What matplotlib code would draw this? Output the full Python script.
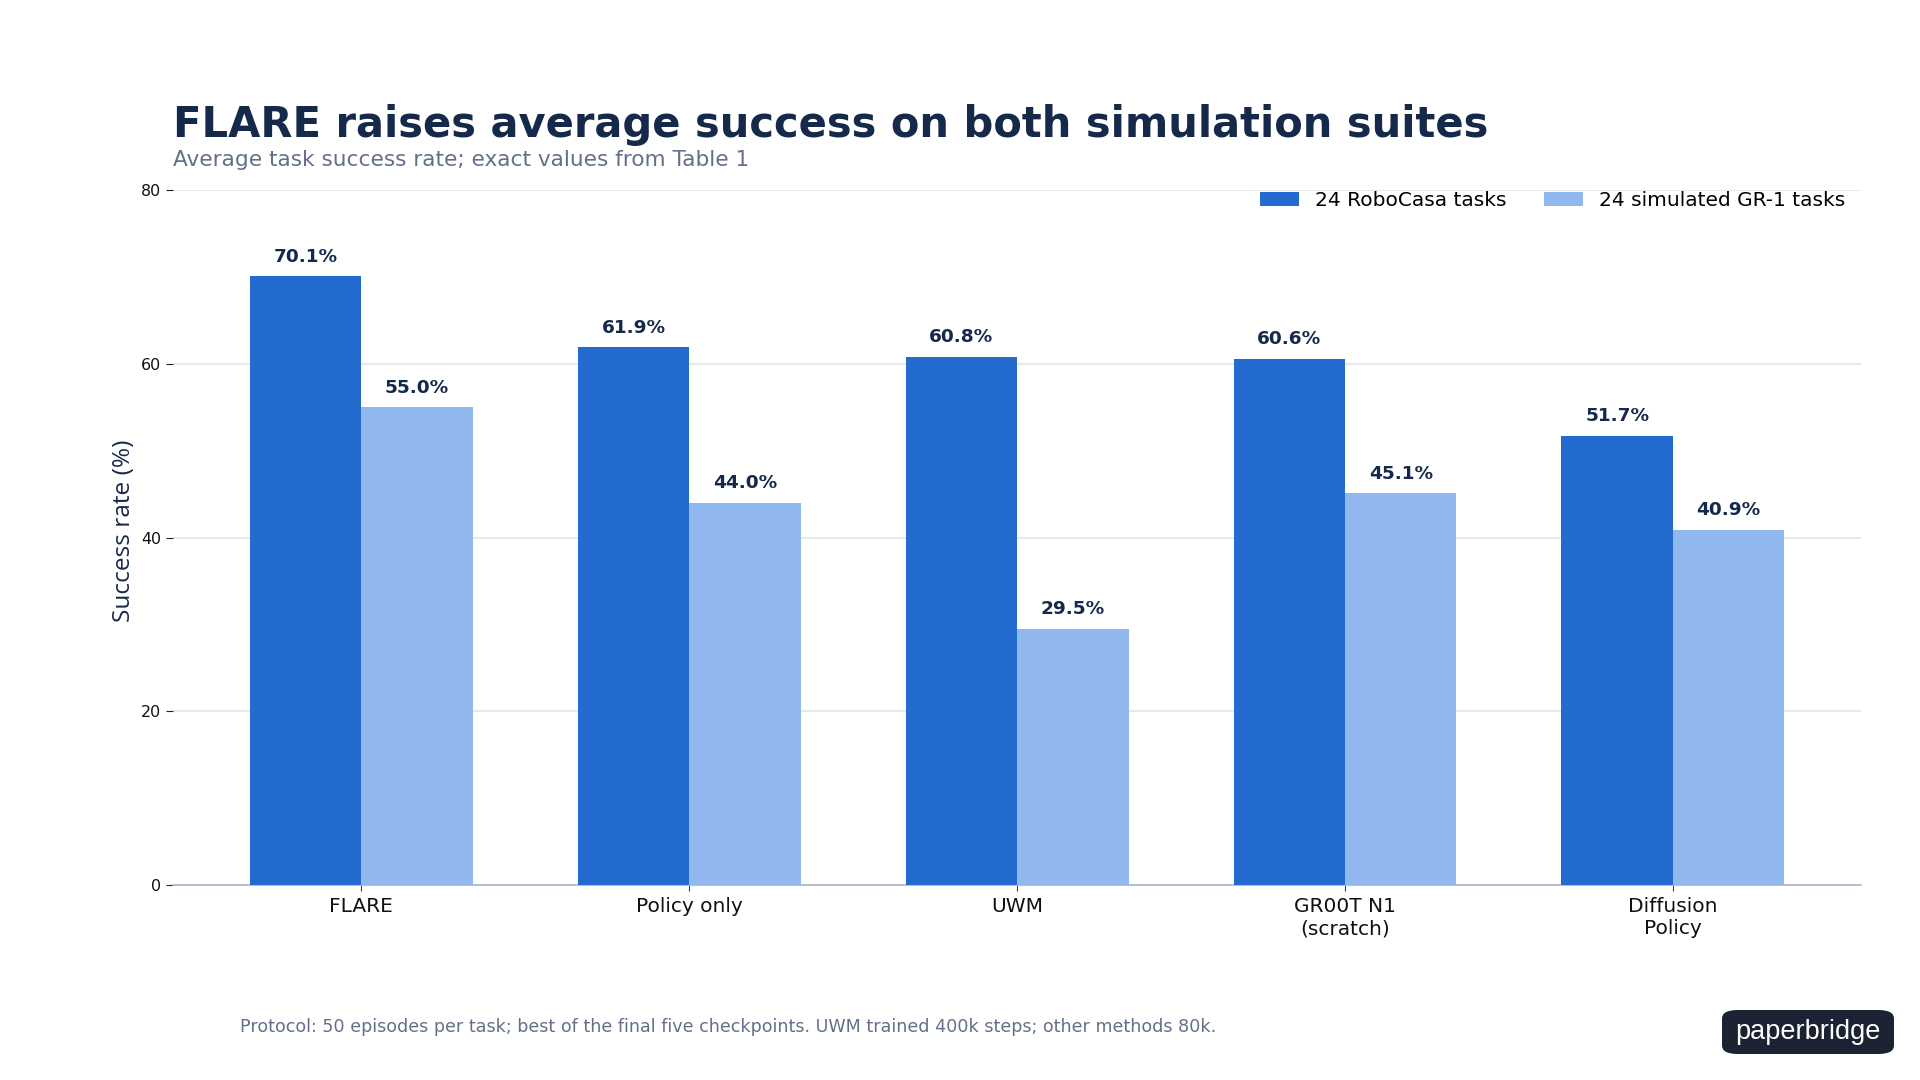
import matplotlib
matplotlib.use("Agg")
import matplotlib.pyplot as plt
from matplotlib.patches import FancyBboxPatch
import numpy as np

methods = ["FLARE", "Policy only", "UWM", "GR00T N1\n(scratch)", "Diffusion\nPolicy"]
robocasa = [70.1, 61.9, 60.8, 60.6, 51.7]
gr1 = [55.0, 44.0, 29.5, 45.1, 40.9]
series_names = ["24 RoboCasa tasks", "24 simulated GR-1 tasks"]
yticks = [0, 20, 40, 60, 80]

NAVY = "#15294b"
DARK = "#236bce"
LIGHT = "#90b8ee"
GREY = "#64708a"

fig = plt.figure(figsize=(19.2, 10.8), dpi=100)
ax = fig.add_axes([0.090, 0.1806, 0.8795, 0.6434])

x = np.arange(len(methods))
w = 0.34
b1 = ax.bar(x - w / 2, robocasa, w, color=DARK, label=series_names[0], zorder=3)
b2 = ax.bar(x + w / 2, gr1, w, color=LIGHT, label=series_names[1], zorder=3)

for bars, vals in ((b1, robocasa), (b2, gr1)):
    for r, v in zip(bars, vals):
        ax.annotate(f"{v:.1f}%", (r.get_x() + r.get_width() / 2, r.get_height()),
                    xytext=(0, 7.5), textcoords="offset points", ha="center", va="bottom",
                    fontsize=13.3, fontweight="bold", color=NAVY)

ax.set_xlim(-0.575, len(methods) - 1 + 0.575)
ax.set_ylim(0, 80)
ax.set_yticks(yticks)
ax.set_xticks(x)
ax.set_xticklabels(methods, fontsize=14.5, color="#111111", linespacing=1.2)
ax.tick_params(axis="y", labelsize=11.4, length=5, color="#222222", labelcolor="#111111")
ax.tick_params(axis="x", length=4, color="#444444", pad=5)
ax.yaxis.grid(True, color="#e2e6ee", linewidth=1.2, zorder=0)
ax.set_axisbelow(True)
for s in ("top", "right", "left"):
    ax.spines[s].set_visible(False)
ax.spines["bottom"].set_color("#a7b6c8")
ax.spines["bottom"].set_linewidth(1.2)
ax.set_ylabel("Success rate (%)", fontsize=17.6, color=NAVY, family=["Open Sans", "DejaVu Sans"])
ax.yaxis.set_label_coords(-0.022, 0.51)

ax.legend(loc="upper right", bbox_to_anchor=(1.001, 1.025), ncol=2, frameon=False,
          fontsize=14.5, handlelength=1.9, handleheight=0.7, columnspacing=1.9)

fig.text(0.090, 0.873, "FLARE raises average success on both simulation suites",
         fontsize=30, fontweight="bold", color=NAVY, va="baseline", ha="left")
fig.text(0.090, 0.846, "Average task success rate; exact values from Table 1",
         fontsize=15.6, color=GREY, va="baseline", ha="left")
fig.text(0.125, 0.0445, "Protocol: 50 episodes per task; best of the final five checkpoints. "
         "UWM trained 400k steps; other methods 80k.",
         fontsize=12.6, color=GREY, va="baseline", ha="left")

# badge
bx0, by0, bw, bh = 1722 / 1920, 1 - 1054 / 1080, 172 / 1920, 44 / 1080
badge = FancyBboxPatch((bx0, by0), bw, bh, boxstyle="round,pad=0,rounding_size=0.008",
                       transform=fig.transFigure, facecolor="#1b2333", edgecolor="none")
fig.patches.append(badge)
fig.text(bx0 + bw / 2, by0 + bh / 2, "paperbridge", fontsize=19.5, color="white",
         family="Liberation Sans", ha="center", va="center")

fig.savefig("out.png", dpi=100)
